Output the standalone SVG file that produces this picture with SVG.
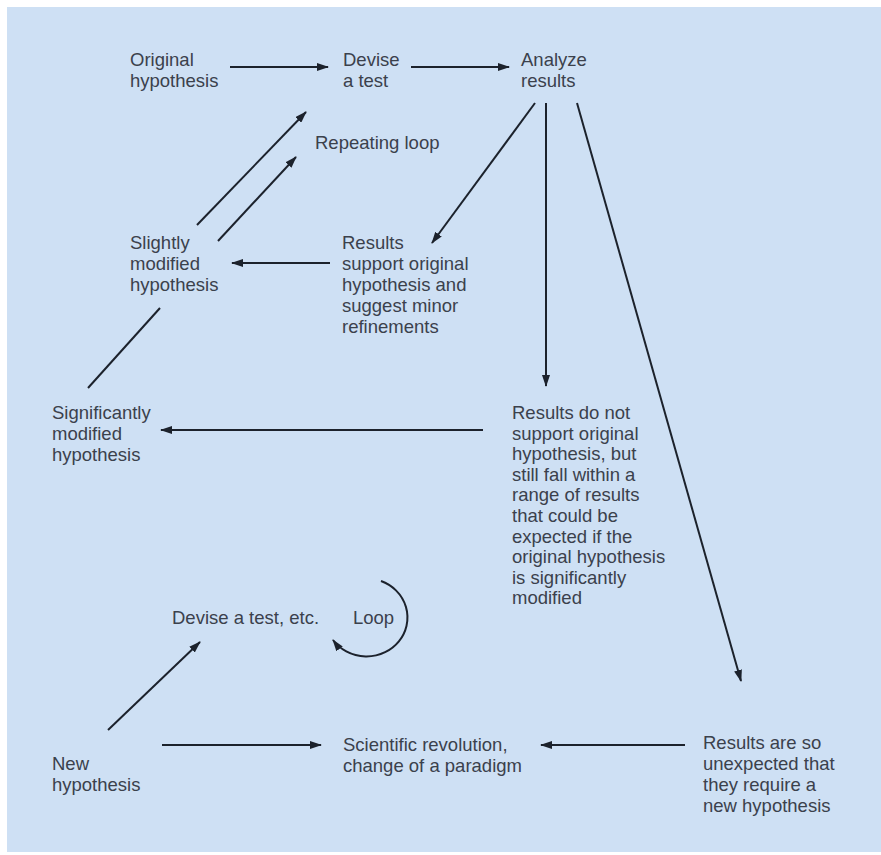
<svg xmlns="http://www.w3.org/2000/svg" width="881" height="855" viewBox="0 0 881 855">
<style>
text{font-family:"Liberation Sans",Arial,Helvetica,sans-serif;font-size:18.5px;fill:#3b414c}
.c line,.c path{stroke:#1c222c;stroke-width:2;fill:none}
</style>
<defs>
<marker id="ah" viewBox="0 0 12 8" refX="11" refY="4" markerWidth="12" markerHeight="8" markerUnits="userSpaceOnUse" orient="auto">
<path d="M0,0 L12,4 L0,8 Z" fill="#1c222c"/>
</marker>
</defs>
<rect x="0" y="0" width="881" height="855" fill="#ffffff"/>
<rect x="7" y="7" width="874" height="845" fill="#cee0f4"/>
<g class="c" id="connectors">
<line x1="230" y1="67" x2="328" y2="67" marker-end="url(#ah)"/>
<line x1="411" y1="67" x2="509" y2="67" marker-end="url(#ah)"/>
<line x1="197" y1="225" x2="306" y2="112" marker-end="url(#ah)"/>
<line x1="218" y1="241" x2="296" y2="157" marker-end="url(#ah)"/>
<line x1="330" y1="263" x2="232" y2="263" marker-end="url(#ah)"/>
<line x1="535" y1="103" x2="432" y2="243" marker-end="url(#ah)"/>
<line x1="160" y1="308" x2="88" y2="388"/>
<line x1="546" y1="103" x2="546" y2="386" marker-end="url(#ah)"/>
<line x1="483" y1="430" x2="161" y2="430" marker-end="url(#ah)"/>
<line x1="577" y1="103" x2="741" y2="681" marker-end="url(#ah)"/>
<line x1="685" y1="745" x2="541" y2="745" marker-end="url(#ah)"/>
<line x1="162" y1="745" x2="321" y2="745" marker-end="url(#ah)"/>
<line x1="108" y1="730" x2="200" y2="642" marker-end="url(#ah)"/>
<path d="M381 581 A41 39 0 1 1 333 640" marker-end="url(#ah)"/>
</g>
<g id="original"><text x="130" y="66">Original</text><text x="130" y="87">hypothesis</text></g>
<g id="devise"><text x="343" y="66">Devise</text><text x="343" y="87">a test</text></g>
<g id="analyze"><text x="521" y="66">Analyze</text><text x="521" y="87">results</text></g>
<g id="repeating"><text x="315" y="149">Repeating loop</text></g>
<g id="slightly"><text x="130" y="249">Slightly</text><text x="130" y="270">modified</text><text x="130" y="291">hypothesis</text></g>
<g id="support"><text x="342" y="249">Results</text><text x="342" y="270">support original</text><text x="342" y="291">hypothesis and</text><text x="342" y="312">suggest minor</text><text x="342" y="333">refinements</text></g>
<g id="significantly"><text x="52" y="419">Significantly</text><text x="52" y="440">modified</text><text x="52" y="461">hypothesis</text></g>
<g id="notsupport">
<text x="512" y="419">Results do not</text>
<text x="512" y="439.6">support original</text>
<text x="512" y="460.2">hypothesis, but</text>
<text x="512" y="480.8">still fall within a</text>
<text x="512" y="501.4">range of results</text>
<text x="512" y="522">that could be</text>
<text x="512" y="542.6">expected if the</text>
<text x="512" y="563.2">original hypothesis</text>
<text x="512" y="583.8">is significantly</text>
<text x="512" y="604.4">modified</text>
</g>
<g id="devise2"><text x="172" y="624">Devise a test, etc.</text></g>
<g id="loop"><text x="353" y="624">Loop</text></g>
<g id="newhyp"><text x="52" y="770">New</text><text x="52" y="791">hypothesis</text></g>
<g id="revolution"><text x="343" y="751">Scientific revolution,</text><text x="343" y="772">change of a paradigm</text></g>
<g id="unexpected"><text x="703" y="749">Results are so</text><text x="703" y="770">unexpected that</text><text x="703" y="791">they require a</text><text x="703" y="812">new hypothesis</text></g>
</svg>
